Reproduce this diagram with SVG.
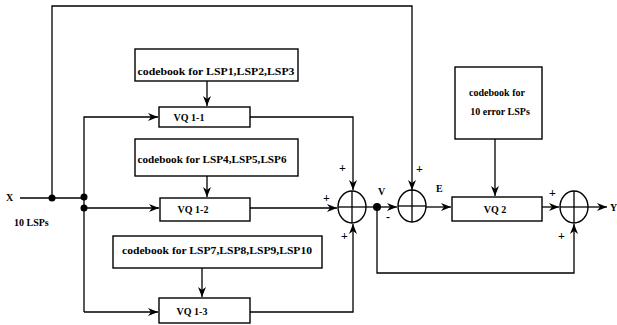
<svg xmlns="http://www.w3.org/2000/svg" width="617" height="325" viewBox="0 0 617 325">
<defs>
<marker id="ah" viewBox="0 0 10 8" refX="10" refY="4" markerWidth="10" markerHeight="8" markerUnits="userSpaceOnUse" orient="auto">
<path d="M0,0 L10,4 L0,8 L3,4 Z" fill="#000"/>
</marker>
</defs>
<style>
.box{fill:#fff;stroke:#000;stroke-width:1.4}
.sum{fill:none;stroke:#000;stroke-width:1.4}
.ln{fill:none;stroke:#000;stroke-width:1.3}
.ar{fill:none;stroke:#000;stroke-width:1.3;marker-end:url(#ah)}
text{font-family:"Liberation Serif","Times New Roman",serif;font-weight:bold;font-size:10px;fill:#000}
.c{text-anchor:middle}
.p{font-size:12px}
</style>
<rect width="617" height="325" fill="#fff"/>
<g id="connectors">
<polyline class="ln" points="20,198 84,198"/>
<polyline class="ar" points="52,198 52,6 412,6 412,190"/>
<polyline class="ar" points="84,312 84,117 158,117"/>
<polyline class="ar" points="84,312 158,312"/>
<polyline class="ar" points="84,208 159,208"/>
<polyline class="ar" points="207,81 207,106"/>
<polyline class="ar" points="207,176 207,197"/>
<polyline class="ar" points="202,268 202,297"/>
<polyline class="ar" points="495,139 495,196"/>
<polyline class="ar" points="250,117 353,117 353,190"/>
<polyline class="ar" points="250,208 337,208"/>
<polyline class="ar" points="250,312 353,312 353,224"/>
<polyline class="ar" points="366,207 397,207"/>
<polyline class="ar" points="426,207 451,207"/>
<polyline class="ar" points="542,207 559,207"/>
<polyline class="ar" points="588,207 607,207"/>
<polyline class="ar" points="377,207 377,273 574,273 574,224"/>
<circle cx="52" cy="198" r="3.5" fill="#000"/>
<circle cx="84" cy="197" r="3.5" fill="#000"/>
<circle cx="84" cy="208" r="3.5" fill="#000"/>
<circle cx="377" cy="207" r="4" fill="#000"/>
</g>
<g id="cb1"><rect class="box" x="135" y="49" width="163" height="32"/><text x="216" y="75" class="c" textLength="157" lengthAdjust="spacingAndGlyphs">codebook for LSP1,LSP2,LSP3</text></g>
<g id="vq11"><rect class="box" x="159" y="107" width="91" height="20"/><text x="189" y="121" class="c">VQ 1-1</text></g>
<g id="cb2"><rect class="box" x="135" y="139" width="163" height="37"/><text x="212" y="163" class="c" textLength="149" lengthAdjust="spacingAndGlyphs">codebook for LSP4,LSP5,LSP6</text></g>
<g id="vq12"><rect class="box" x="160" y="198" width="90" height="23"/><text x="193" y="213" class="c">VQ 1-2</text></g>
<g id="cb3"><rect class="box" x="113" y="236" width="209" height="32"/><text x="217" y="254" class="c" textLength="190" lengthAdjust="spacingAndGlyphs">codebook for LSP7,LSP8,LSP9,LSP10</text></g>
<g id="vq13"><rect class="box" x="159" y="298" width="91" height="25"/><text x="192" y="315" class="c">VQ 1-3</text></g>
<g id="cb4"><rect class="box" x="455" y="67" width="87" height="72"/><text x="497" y="96" class="c">codebook for</text><text x="500" y="115" class="c">10 error LSPs</text></g>
<g id="vq2"><rect class="box" x="452" y="197" width="90" height="24"/><text x="495" y="213" class="c">VQ 2</text></g>
<g id="sum1"><ellipse class="sum" cx="352" cy="207" rx="14" ry="16"/><line class="ln" x1="338" y1="207" x2="366" y2="207"/><line class="ln" x1="352" y1="191" x2="352" y2="223"/></g>
<g id="sum2"><ellipse class="sum" cx="412" cy="206" rx="14" ry="16"/><line class="ln" x1="398" y1="206" x2="426" y2="206"/><line class="ln" x1="412" y1="190" x2="412" y2="222"/></g>
<g id="sum3"><ellipse class="sum" cx="574" cy="207" rx="14" ry="16"/><line class="ln" x1="560" y1="207" x2="588" y2="207"/><line class="ln" x1="574" y1="191" x2="574" y2="223"/></g>
<g id="labels">
<text x="6" y="201">X</text>
<text x="14" y="226">10 LSPs</text>
<text class="p" x="339" y="172">+</text>
<text class="p" x="323" y="202">+</text>
<text class="p" x="341" y="240">+</text>
<text x="378" y="195">V</text>
<text class="p" x="386" y="221">-</text>
<text class="p" x="416" y="173">+</text>
<text x="436" y="192">E</text>
<text class="p" x="549" y="197">+</text>
<text class="p" x="558" y="240">+</text>
<text x="610" y="211">Y</text>
</g>
</svg>
